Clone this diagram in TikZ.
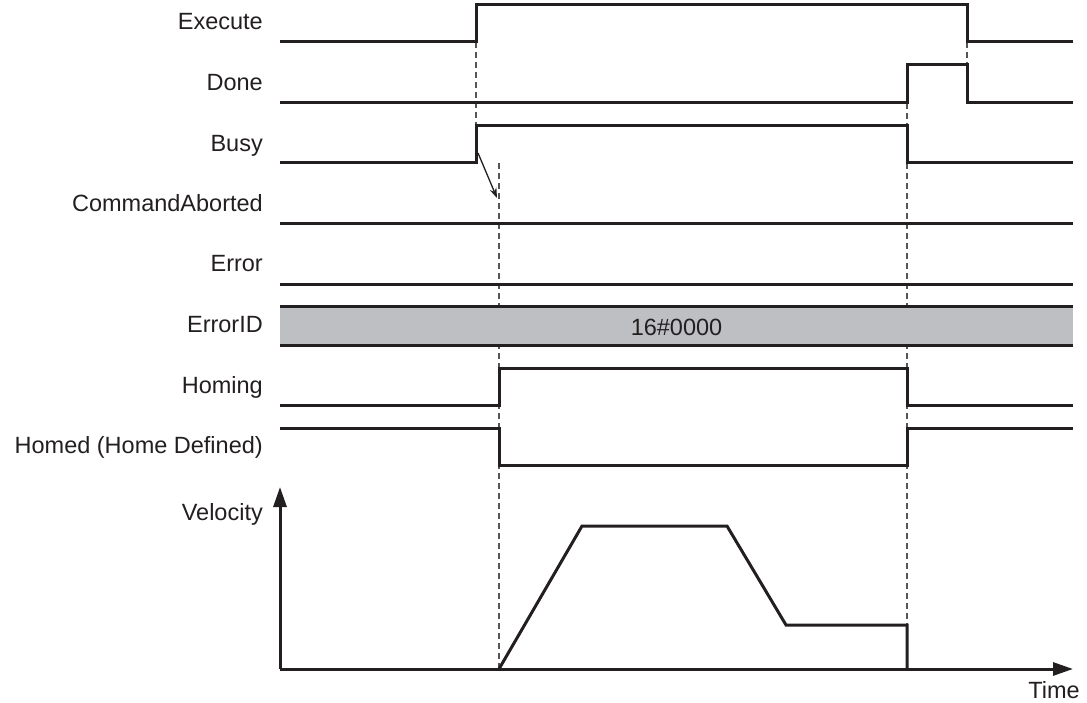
\documentclass[tikz,border=0pt]{standalone}
\usepackage{fontspec}
\setmainfont{Liberation Sans}
\usetikzlibrary{arrows.meta}
\definecolor{ink}{RGB}{35,31,32}
\definecolor{bandgray}{RGB}{190,191,194}
\definecolor{dashgray}{RGB}{85,85,85}
\tikzset{
  sig/.style={line width=3pt, draw=ink, line join=miter},
  guide/.style={line width=1.4pt, draw=dashgray, dash pattern=on 6pt off 4pt},
  lbl/.style={anchor=base east, inner sep=0pt, text=ink, font=\fontsize{23.5}{28}\selectfont},
  txt/.style={inner sep=0pt, text=ink, font=\fontsize{23.5}{28}\selectfont},
  axis/.style={line width=3pt, draw=ink, -{Triangle[length=20pt,width=13pt]}},
}
\begin{document}
\begin{tikzpicture}[x=1pt,y=-1pt]
\useasboundingbox (0,0) rectangle (1087,703);
% labels
\node[lbl] (lexec) at (263,30) {Execute};
\node[lbl] (ldone) at (263,91) {Done};
\node[lbl] (lbusy) at (263,152) {Busy};
\node[lbl] (lca) at (263,212) {CommandAborted};
\node[lbl] (lerr) at (263,272) {Error};
\node[lbl] (lerrid) at (263,332) {ErrorID};
\node[lbl] (lhoming) at (263,393) {Homing};
\node[lbl] (lhomed) at (263,453) {Homed (Home Defined)};
\node[lbl] (lvel) at (263,520) {Velocity};
% guide lines (dashed)
\draw[guide] (476,42) -- (476,126);
\draw[guide] (499,163) -- (499,669);
\draw[guide] (907,103) -- (907,669);
\draw[guide] (967,42) -- (967,65);
% ErrorID band
\fill[bandgray] (280,307) rectangle (1073,345);
\draw[sig] (280,307) -- (1073,307);
\draw[sig] (280,345) -- (1073,345);
\node[txt, anchor=base] (errid) at (676.5,336) {16\#0000};
% signals
\draw[sig] (280,42) -- (476,42) -- (476,5) -- (967,5) -- (967,42) -- (1073,42);
\draw[sig] (280,103) -- (907,103) -- (907,65) -- (967,65) -- (967,103) -- (1073,103);
\draw[sig] (280,163) -- (476,163) -- (476,126) -- (907,126) -- (907,163) -- (1073,163);
\draw[sig] (280,224) -- (1073,224);
\draw[sig] (280,285) -- (1073,285);
\draw[sig] (280,405) -- (499,405) -- (499,368) -- (907,368) -- (907,405) -- (1073,405);
\draw[sig] (280,428) -- (499,428) -- (499,465) -- (907,465) -- (907,428) -- (1073,428);
% annotation arrow
\coordinate (arrS) at (478,153);
\coordinate (arrE) at (497,198);
\draw[line width=1.3pt, draw=ink, -{Stealth[length=10pt,width=7pt]}] (arrS) -- (arrE);
% velocity axes
\coordinate (origin) at (280,669);
\coordinate (vtop) at (280,487);
\coordinate (tend) at (1073,669);
\draw[axis] (origin) -- (vtop);
\draw[axis] (origin) -- (tend);
\node[txt, anchor=base east] (ltime) at (1080,698) {Time};
% velocity profile
\draw[sig] (499,669) -- (582,526) -- (727,526) -- (786,625) -- (907,625) -- (907,669);
\end{tikzpicture}
\end{document}
